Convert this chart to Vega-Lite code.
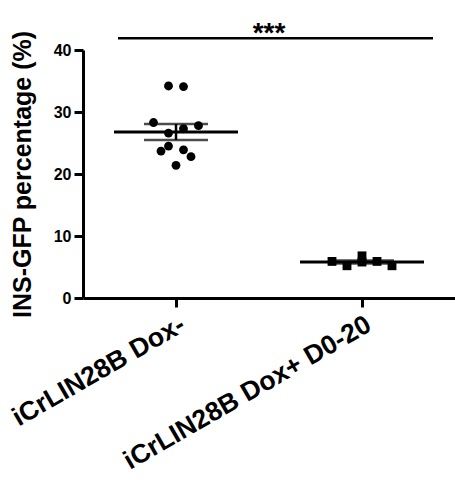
{
  "$schema": "https://vega.github.io/schema/vega-lite/v6.json",
  "autosize": {"type": "none"},
  "padding": {"left": 83, "top": 50, "right": 0, "bottom": 183},
  "width": 372,
  "height": 248,
  "background": "white",
  "config": {
    "view": {"stroke": null},
    "font": "Liberation Sans",
    "axis": {
      "grid": false,
      "domainColor": "black",
      "domainWidth": 3,
      "tickColor": "black",
      "tickWidth": 3,
      "tickSize": 9,
      "labelColor": "black",
      "labelFont": "Liberation Sans",
      "labelFontWeight": "bold",
      "labelLimit": 0,
      "titleColor": "black",
      "titleFont": "Liberation Sans",
      "titleFontWeight": "bold"
    }
  },
  "data": {
    "values": [
      {"group": "iCrLIN28B Dox-", "value": 34.2},
      {"group": "iCrLIN28B Dox-", "value": 34.1},
      {"group": "iCrLIN28B Dox-", "value": 28.3},
      {"group": "iCrLIN28B Dox-", "value": 26.6},
      {"group": "iCrLIN28B Dox-", "value": 27.3},
      {"group": "iCrLIN28B Dox-", "value": 27.8},
      {"group": "iCrLIN28B Dox-", "value": 24.5},
      {"group": "iCrLIN28B Dox-", "value": 23.9},
      {"group": "iCrLIN28B Dox-", "value": 23.7},
      {"group": "iCrLIN28B Dox-", "value": 21.4},
      {"group": "iCrLIN28B Dox-", "value": 22.8},
      {"group": "iCrLIN28B Dox+ D0-20", "value": 6.8},
      {"group": "iCrLIN28B Dox+ D0-20", "value": 5.9},
      {"group": "iCrLIN28B Dox+ D0-20", "value": 5.2},
      {"group": "iCrLIN28B Dox+ D0-20", "value": 5.8},
      {"group": "iCrLIN28B Dox+ D0-20", "value": 5.9},
      {"group": "iCrLIN28B Dox+ D0-20", "value": 5.2}
    ]
  },
  "layer": [
    {
      "transform": [
        {"calculate": "round(datum.value / 2.5)", "as": "bin"},
        {"window": [{"op": "row_number", "as": "rank"}], "groupby": ["group", "bin"]},
        {"joinaggregate": [{"op": "count", "as": "n"}], "groupby": ["group", "bin"]},
        {"calculate": "datum.rank - (datum.n + 1) / 2", "as": "spread"}
      ],
      "mark": {"type": "point", "filled": true, "opacity": 1, "color": "black", "size": 78},
      "encoding": {
        "x": {
          "field": "group",
          "type": "nominal",
          "sort": ["iCrLIN28B Dox-", "iCrLIN28B Dox+ D0-20"],
          "scale": {"type": "point", "padding": 0.5},
          "axis": {"title": null, "labelAngle": -30, "labelFontSize": 26.5, "labelPadding": 4}
        },
        "xOffset": {"field": "spread", "type": "quantitative", "scale": {"domain": [-3, 3], "range": [-45, 45]}},
        "y": {
          "field": "value",
          "type": "quantitative",
          "title": "INS-GFP percentage (%)",
          "scale": {"domain": [0, 40], "nice": false},
          "axis": {"values": [0, 10, 20, 30, 40], "labelFontSize": 16, "labelPadding": 3, "titleFontSize": 25, "titlePadding": 18}
        },
        "shape": {"field": "group", "type": "nominal", "scale": {"domain": ["iCrLIN28B Dox-", "iCrLIN28B Dox+ D0-20"], "range": ["circle", "square"]}, "legend": null}
      }
    },
    {
      "mark": {"type": "tick", "color": "black", "size": 124, "thickness": 3, "orient": "horizontal"},
      "encoding": {
        "x": {"field": "group", "type": "nominal", "sort": ["iCrLIN28B Dox-", "iCrLIN28B Dox+ D0-20"]},
        "y": {"field": "value", "type": "quantitative", "aggregate": "mean", "title": "INS-GFP percentage (%)"}
      }
    },
    {
      "mark": {"type": "errorbar", "extent": "stderr", "color": "black", "thickness": 2.5, "ticks": {"size": 64, "thickness": 2.5, "color": "black"}},
      "encoding": {
        "x": {"field": "group", "type": "nominal", "sort": ["iCrLIN28B Dox-", "iCrLIN28B Dox+ D0-20"]},
        "y": {"field": "value", "type": "quantitative", "title": "INS-GFP percentage (%)"}
      }
    },
    {
      "data": {"values": [{"comparison": "Dox- vs Dox+ D0-20", "p": "***"}]},
      "mark": {"type": "rule", "color": "black", "strokeWidth": 2.5, "xOffset": -58, "x2Offset": 71},
      "encoding": {
        "x": {"datum": "iCrLIN28B Dox-", "type": "nominal"},
        "x2": {"datum": "iCrLIN28B Dox+ D0-20"},
        "y": {"datum": 41.9, "type": "quantitative", "title": "INS-GFP percentage (%)"}
      }
    },
    {
      "data": {"values": [{"comparison": "Dox- vs Dox+ D0-20", "p": "***"}]},
      "mark": {"type": "text", "color": "black", "fontSize": 28, "fontWeight": "bold", "baseline": "alphabetic", "dy": 4},
      "encoding": {
        "y": {"datum": 41.9, "type": "quantitative", "title": "INS-GFP percentage (%)"},
        "text": {"field": "p"}
      }
    }
  ]
}
